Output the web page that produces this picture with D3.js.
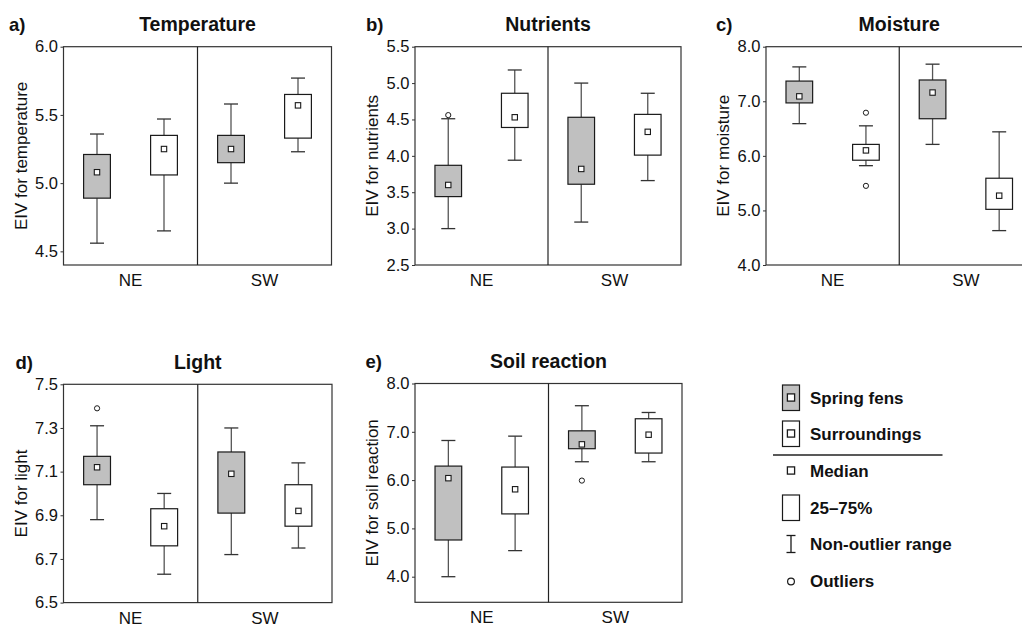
<!DOCTYPE html>
<html>
<head>
<meta charset="utf-8">
<script src="https://cdn.jsdelivr.net/npm/d3@7"></script>
<style>
  body { margin: 0; background: #fff; }
  svg { display: block; }
  text { font-family: "Liberation Sans", Arial, Helvetica, sans-serif; fill: #111; }
</style>
</head>
<body>
<svg id="chart" width="1022" height="624"></svg>
<script>
// Regions on the x axis and the two habitats compared inside each region
const regions = ["NE", "SW"];
const habitats = ["Spring fens", "Surroundings"];

// Box statistics: [lower whisker, 25%, median, 75%, upper whisker]
// order: NE spring fens, NE surroundings, SW spring fens, SW surroundings
const temperatureBoxes = [
  [4.56, 4.89, 5.08, 5.21, 5.36],
  [4.65, 5.06, 5.25, 5.35, 5.47],
  [5.00, 5.15, 5.25, 5.35, 5.58],
  [5.23, 5.33, 5.57, 5.65, 5.77]
];
const nutrientsBoxes = [
  [3.00, 3.44, 3.60, 3.87, 4.51],
  [3.94, 4.39, 4.53, 4.86, 5.18],
  [3.09, 3.61, 3.82, 4.53, 5.00],
  [3.66, 4.01, 4.33, 4.57, 4.86]
];
const moistureBoxes = [
  [6.59, 6.97, 7.09, 7.37, 7.63],
  [5.82, 5.92, 6.10, 6.21, 6.55],
  [6.21, 6.68, 7.16, 7.39, 7.68],
  [4.63, 5.02, 5.27, 5.59, 6.44]
];
const lightBoxes = [
  [6.88, 7.04, 7.12, 7.17, 7.31],
  [6.63, 6.76, 6.85, 6.93, 7.00],
  [6.72, 6.91, 7.09, 7.19, 7.30],
  [6.75, 6.85, 6.92, 7.04, 7.14]
];
const soilReactionBoxes = [
  [4.00, 4.76, 6.04, 6.29, 6.82],
  [4.54, 5.30, 5.81, 6.27, 6.91],
  [6.38, 6.65, 6.74, 7.02, 7.54],
  [6.38, 6.56, 6.94, 7.27, 7.40]
];

// Outlying values: [region, habitat, value]
const nutrientsOutliers = [["NE", "Spring fens", 4.56]];
const moistureOutliers = [["NE", "Surroundings", 6.79], ["NE", "Surroundings", 5.45]];
const lightOutliers = [["NE", "Spring fens", 7.39]];
const soilReactionOutliers = [["SW", "Spring fens", 5.99]];

// Tick values of each y axis
const temperatureTicks = [4.5, 5.0, 5.5, 6.0];
const nutrientsTicks = [2.5, 3.0, 3.5, 4.0, 4.5, 5.0, 5.5];
const moistureTicks = [4.0, 5.0, 6.0, 7.0, 8.0];
const lightTicks = [6.5, 6.7, 6.9, 7.1, 7.3, 7.5];
const soilReactionTicks = [4.0, 5.0, 6.0, 7.0, 8.0];

const panels = [
  { letter: "a)", title: "Temperature", ylabel: "EIV for temperature", boxes: temperatureBoxes, outliers: [],
    ticks: temperatureTicks, domain: [4.4, 6.0], x: 63.5, y: 46.7, w: 268, h: 218.3, letterX: 9 },
  { letter: "b)", title: "Nutrients", ylabel: "EIV for nutrients", boxes: nutrientsBoxes, outliers: nutrientsOutliers,
    ticks: nutrientsTicks, domain: [2.5, 5.5], x: 415, y: 46.7, w: 266, h: 218.3, letterX: 366 },
  { letter: "c)", title: "Moisture", ylabel: "EIV for moisture", boxes: moistureBoxes, outliers: moistureOutliers,
    ticks: moistureTicks, domain: [4.0, 8.0], x: 766, y: 46.7, w: 266.5, h: 218.3, letterX: 716 },
  { letter: "d)", title: "Light", ylabel: "EIV for light", boxes: lightBoxes, outliers: lightOutliers,
    ticks: lightTicks, domain: [6.5, 7.5], x: 63.5, y: 384.3, w: 268.5, h: 218.3, letterX: 15.5 },
  { letter: "e)", title: "Soil reaction", ylabel: "EIV for soil reaction", boxes: soilReactionBoxes, outliers: soilReactionOutliers,
    ticks: soilReactionTicks, domain: [3.47, 8.0], x: 415, y: 383.5, w: 267, h: 218.8, letterX: 365.5 }
];

const GREY = "#c0c0c0";
const INK = "#1a1a1a";
const WHISKER = "#555";
const svg = d3.select("#chart");

panels.forEach(p => {
  const g = svg.append("g");
  const x = d3.scaleBand().domain(regions).range([p.x, p.x + p.w]);
  const inner = d3.scalePoint().domain(habitats).range([0, x.bandwidth()]).padding(0.5);
  const y = d3.scaleLinear().domain(p.domain).range([p.y + p.h, p.y]);
  const boxW = x.bandwidth() * 0.2;
  const capW = 7;

  // panel letter and title
  g.append("text").attr("x", p.letterX).attr("y", p.y - 15.5)
    .attr("font-size", 18.5).attr("font-weight", "bold").text(p.letter);
  g.append("text").attr("x", p.x + p.w / 2).attr("y", p.y - 15.5)
    .attr("text-anchor", "middle").attr("font-size", 19.5).attr("font-weight", "bold").text(p.title);

  // y axis ticks and labels
  const yAxis = d3.axisLeft(y).tickValues(p.ticks).tickFormat(d3.format(".1f"))
    .tickSize(3).tickPadding(2.5);
  const ya = g.append("g").attr("transform", `translate(${p.x},0)`).call(yAxis);
  ya.select(".domain").remove();
  ya.selectAll(".tick line").attr("stroke", "#333");
  ya.selectAll(".tick text").attr("font-size", 16.5).attr("fill", "#111")
    .attr("font-family", '"Liberation Sans", Arial, sans-serif');

  g.append("text")
    .attr("transform", `translate(${p.x - 37},${p.y + p.h / 2}) rotate(-90)`)
    .attr("text-anchor", "middle").attr("font-size", 17).text(p.ylabel);

  // x axis category labels
  const xa = g.append("g").attr("transform", `translate(0,${p.y + p.h})`)
    .call(d3.axisBottom(x).tickSize(0).tickPadding(9));
  xa.select(".domain").remove();
  xa.selectAll(".tick text").attr("font-size", 17).attr("fill", "#111")
    .attr("font-family", '"Liberation Sans", Arial, sans-serif');

  // frame and region divider
  g.append("rect").attr("x", p.x).attr("y", p.y).attr("width", p.w).attr("height", p.h)
    .attr("fill", "none").attr("stroke", "#333").attr("stroke-width", 1.2);
  g.append("line").attr("x1", x("SW")).attr("x2", x("SW"))
    .attr("y1", p.y).attr("y2", p.y + p.h).attr("stroke", "#222").attr("stroke-width", 1.2);

  // box plots
  const rows = [];
  regions.forEach(r => habitats.forEach(h => rows.push({ region: r, habitat: h })));
  rows.forEach((row, i) => {
    const [lo, q1, med, q3, hi] = p.boxes[i];
    const cx = x(row.region) + inner(row.habitat);
    const bg = g.append("g");
    bg.append("line").attr("x1", cx).attr("x2", cx).attr("y1", y(hi)).attr("y2", y(q3))
      .attr("stroke", WHISKER).attr("stroke-width", 1.3);
    bg.append("line").attr("x1", cx).attr("x2", cx).attr("y1", y(q1)).attr("y2", y(lo))
      .attr("stroke", WHISKER).attr("stroke-width", 1.3);
    [lo, hi].forEach(v => bg.append("line")
      .attr("x1", cx - capW).attr("x2", cx + capW).attr("y1", y(v)).attr("y2", y(v))
      .attr("stroke", "#333").attr("stroke-width", 1.3));
    bg.append("rect").attr("x", cx - boxW / 2).attr("y", y(q3))
      .attr("width", boxW).attr("height", y(q1) - y(q3))
      .attr("fill", row.habitat === "Spring fens" ? GREY : "#fff")
      .attr("stroke", INK).attr("stroke-width", 1.2);
    bg.append("rect").attr("x", cx - 2.7).attr("y", y(med) - 2.7).attr("width", 5.4).attr("height", 5.4)
      .attr("fill", "#fff").attr("stroke", INK).attr("stroke-width", 1.1);
  });

  p.outliers.forEach(([r, h, v]) => {
    g.append("circle").attr("cx", x(r) + inner(h)).attr("cy", y(v)).attr("r", 2.6)
      .attr("fill", "#fff").attr("stroke", INK).attr("stroke-width", 1);
  });
});

// legend
const lg = svg.append("g");
const legendItems = [
  { label: "Spring fens", kind: "fens", y: 403.5 },
  { label: "Surroundings", kind: "surr", y: 439.5 },
  { label: "Median", kind: "median", y: 476.5 },
  { label: "25\u201375%", kind: "box", y: 513.5 },
  { label: "Non-outlier range", kind: "range", y: 550 },
  { label: "Outliers", kind: "outlier", y: 586.5 }
];
const iconX = 791;
legendItems.forEach(it => {
  lg.append("text").attr("x", 810).attr("y", it.y).attr("font-size", 17)
    .attr("font-weight", "bold").text(it.label);
  const cy = it.y - 6;
  if (it.kind === "fens" || it.kind === "surr" || it.kind === "box") {
    lg.append("rect").attr("x", iconX - 8.5).attr("y", cy - 12.5).attr("width", 17).attr("height", 25.5)
      .attr("fill", it.kind === "fens" ? GREY : "#fff").attr("stroke", INK).attr("stroke-width", 1.2);
  }
  if (it.kind === "fens" || it.kind === "surr" || it.kind === "median") {
    lg.append("rect").attr("x", iconX - 3.6).attr("y", cy - 3.6).attr("width", 7.2).attr("height", 7.2)
      .attr("fill", "#fff").attr("stroke", INK).attr("stroke-width", 1.3);
  }
  if (it.kind === "range") {
    lg.append("line").attr("x1", iconX).attr("x2", iconX).attr("y1", cy - 8.5).attr("y2", cy + 8.5)
      .attr("stroke", INK).attr("stroke-width", 1.3);
    [cy - 8.5, cy + 8.5].forEach(v => lg.append("line").attr("x1", iconX - 4.5).attr("x2", iconX + 4.5)
      .attr("y1", v).attr("y2", v).attr("stroke", INK).attr("stroke-width", 1.3));
  }
  if (it.kind === "outlier") {
    lg.append("circle").attr("cx", iconX).attr("cy", cy + 1).attr("r", 3.4)
      .attr("fill", "#fff").attr("stroke", INK).attr("stroke-width", 1.2);
  }
});
lg.append("line").attr("x1", 773).attr("x2", 942.5).attr("y1", 455).attr("y2", 455)
  .attr("stroke", "#222").attr("stroke-width", 1.5);
</script>
</body>
</html>
